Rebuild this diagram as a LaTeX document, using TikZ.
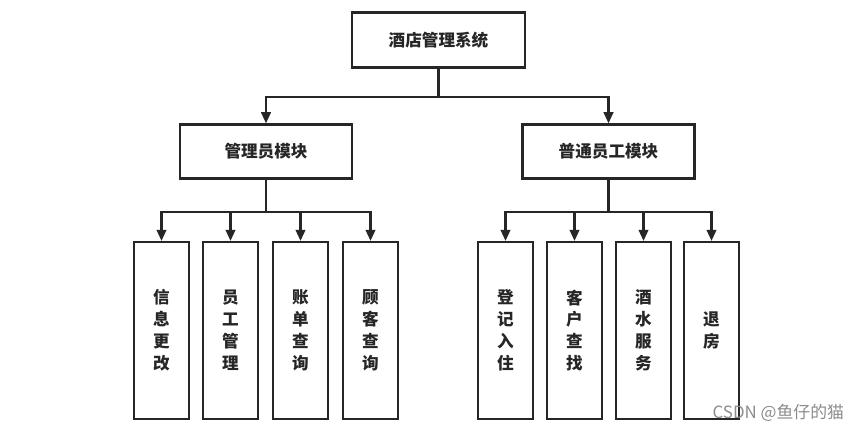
\documentclass[tikz,border=0pt]{standalone}
\usepackage{fontspec}
\newfontfamily\cjk{Noto Sans CJK SC}
\usetikzlibrary{arrows.meta}
\tikzset{
    Box/.style = {draw=black!85,line width=1.6pt,inner sep=0pt,text=black!85,font=\cjk\bfseries\fontsize{11.8}{15.6}\selectfont},
    TopBox/.style = {Box,minimum width=4.32cm,minimum height=1.38cm},
    ModBox/.style = {Box,minimum width=4.3cm,minimum height=1.35cm},
    LeafBox/.style = {Box,minimum width=1.37cm,minimum height=4.42cm,align=center},
    Arr/.style = {draw=black!85,line width=1.6pt,-{Triangle[length=2.8mm,width=2.4mm]}}
}
\begin{document}
\begin{tikzpicture}[x=0.025cm,y=-0.025cm]
        \useasboundingbox (0,0) rectangle (865,434);
        \node[TopBox] (sys) at (438.5,40) {酒店管理系统};
        \node[ModBox] (adm) at (266,151.5) {管理员模块};
        \node[ModBox] (emp) at (608.5,151.5) {普通员工模块};
        \foreach \X/\T [count=\i] in {161.5/信\\息\\更\\改,230.5/员\\工\\管\\理,300.5/账\\单\\查\\询,370.5/顾\\客\\查\\询}
            {\node[LeafBox] (a\i) at (\X,330.5) {\T};}
        \foreach \X/\T [count=\i] in {505.5/登\\记\\入\\住,574.5/客\\户\\查\\找,643.5/酒\\水\\服\\务,711.5/退\\房}
            {\node[LeafBox] (b\i) at (\X,330.5) {\T};}
        \foreach \N in {adm,emp}
            {\draw[Arr] (sys.south) -- ++(0,28) -| (\N.north);}
        \foreach \i in {1,...,4}
            {\draw[Arr] (adm.south) -- ++(0,32) -| (a\i.north);
             \draw[Arr] (emp.south) -- ++(0,32) -| (b\i.north);}
        \node[text=black!45,font=\cjk\fontsize{12}{14}\selectfont,anchor=east] (mark) at (849,413) {CSDN @鱼仔的猫};
\end{tikzpicture}
\end{document}
